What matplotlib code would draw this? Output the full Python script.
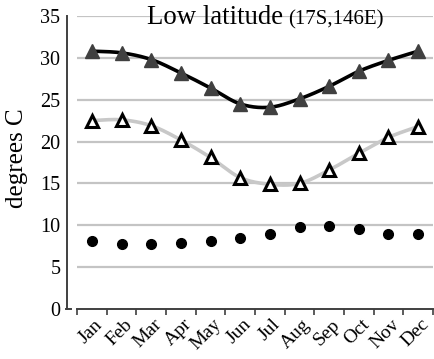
import numpy as np
import matplotlib
matplotlib.use("Agg")
import matplotlib.pyplot as plt
from matplotlib.lines import Line2D
from matplotlib.transforms import ScaledTranslation

months = ["Jan", "Feb", "Mar", "Apr", "May", "Jun", "Jul", "Aug", "Sep", "Oct", "Nov", "Dec"]
t_max = [30.8, 30.6, 29.8, 28.2, 26.4, 24.5, 24.1, 25.1, 26.6, 28.4, 29.7, 30.8]
t_min = [22.5, 22.6, 21.9, 20.2, 18.1, 15.7, 14.9, 15.0, 16.6, 18.6, 20.5, 21.8]
t_range = [8.1, 7.8, 7.8, 7.9, 8.1, 8.5, 9.0, 9.8, 9.9, 9.6, 9.0, 8.9]
yticks = [0, 5, 10, 15, 20, 25, 30, 35]

plt.rcParams["font.family"] = ["Liberation Serif", "DejaVu Serif"]
serif = "Liberation Serif"

W, H = 434, 359
fig = plt.figure(figsize=(W / 100, H / 100), dpi=100)
ax = fig.add_axes([77 / W, 1 - 309 / H, (433 - 77) / W, (309 - 16) / H])


def smooth(y, n=20):
    # Catmull-Rom rendering of the line through the data points
    y = np.asarray(y, float)
    x = np.arange(len(y), dtype=float)
    P = np.r_[y[0], y, y[-1]]
    X = np.r_[x[0], x, x[-1]]
    xs, ys = [], []
    for i in range(1, len(P) - 2):
        t = np.linspace(0, 1, n, endpoint=False)
        for arr, out in ((X, xs), (P, ys)):
            p0, p1, p2, p3 = arr[i - 1], arr[i], arr[i + 1], arr[i + 2]
            out.extend(0.5 * ((2 * p1) + (-p0 + p2) * t + (2 * p0 - 5 * p1 + 4 * p2 - p3) * t ** 2
                              + (-p0 + 3 * p1 - 3 * p2 + p3) * t ** 3))
    xs.append(x[-1]); ys.append(y[-1])
    return np.array(xs), np.array(ys)


x = np.arange(len(months))
sx, sy = smooth(t_max)
ax.plot(sx, sy, color="black", lw=2.6, zorder=3, solid_capstyle="round")
ax.plot(x, t_max, ls="none", marker="^", ms=10, color="#404040", zorder=4)

sx, sy = smooth(t_min)
ax.plot(sx, sy, color="#c8c8c8", lw=2.6, zorder=3, solid_capstyle="round")
ax.plot(x, t_min, ls="none", marker="^", ms=9, mfc="white", mec="black", mew=2.2, zorder=4)

ax.plot(x, t_range, ls="none", marker="o", ms=7, color="black", zorder=4)

ax.set_xlim(-0.5, 11.5)
ax.set_ylim(0, 35)
ax.set_yticks(yticks)
ax.set_yticklabels([str(v) for v in yticks])
ax.set_xticks(np.arange(-0.5, 12, 1.0))
ax.set_xticklabels([])
ax.tick_params(axis="x", which="major", length=4, width=1.2, color="#404040", direction="out")
ax.tick_params(axis="y", length=0, pad=5, labelsize=14.5)

# month labels at the category centres
lab_tr = ax.get_xaxis_transform() + ScaledTranslation(0.02, -0.07, fig.dpi_scale_trans)
for xi, m in zip(x, months):
    ax.text(xi, 0, m, transform=lab_tr, rotation=45, ha="right", va="top",
            rotation_mode="anchor", fontfamily=serif, fontsize=14, clip_on=False)

for v in yticks[1:]:
    ax.axhline(v, color="#c4c4c4", lw=1.6, zorder=1)

for s in ["top", "right"]:
    ax.spines[s].set_visible(False)
ax.spines["left"].set_position(("outward", 7))
ax.spines["left"].set_color("#404040")
ax.spines["left"].set_linewidth(1.4)
ax.spines["bottom"].set_color("#404040")
ax.spines["bottom"].set_linewidth(1.4)

# small foot at the bottom of the y axis
fig.add_artist(Line2D([66 / W, 71 / W], [1 - 309 / H, 1 - 309 / H],
                      color="#404040", lw=1.4, transform=fig.transFigure))

fig.text(17 / W, 1 - 158 / H, "degrees C", fontfamily=serif, fontsize=18,
         rotation=90, ha="center", va="center")

fig.text(147 / W, 1 - 24 / H, "Low latitude", fontfamily=serif, fontsize=19.3,
         ha="left", va="baseline")
fig.text(288 / W, 1 - 24 / H, "(17S,146E)", fontfamily=serif, fontsize=15,
         ha="left", va="baseline")

fig.savefig("out.png", dpi=100)
